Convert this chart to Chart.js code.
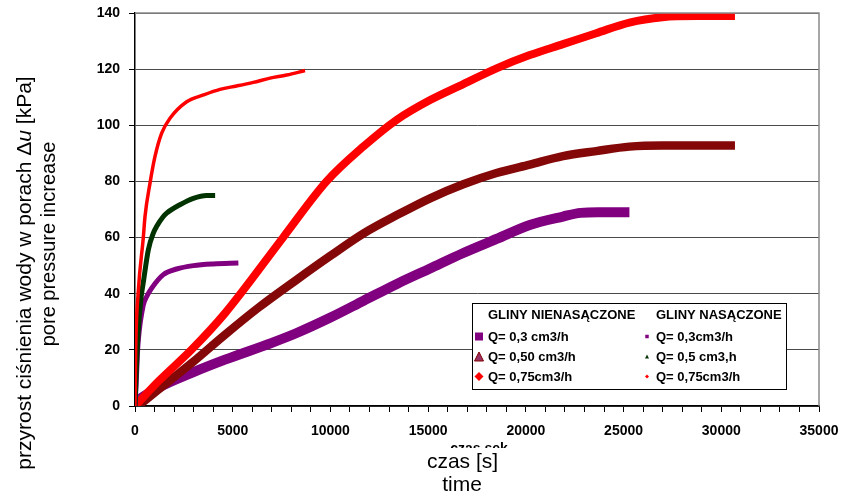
<!DOCTYPE html>
<html><head><meta charset="utf-8">
<script src="https://cdn.jsdelivr.net/npm/chart.js@4.4.1/dist/chart.umd.min.js"></script>
<style>html,body{margin:0;padding:0;background:#fff;overflow:hidden}#wrap{width:843px;height:493px}</style>
</head><body><div id="wrap"><canvas id="c" width="843" height="493"></canvas></div>
<script>
// ---- Data (time [s], pore pressure increase [kPa]) ----
// Unsaturated clays (GLINY NIENASĄCZONE)
const unsat03Time = [0, 1190, 2900, 4605, 7000, 8275, 10000, 11700, 13400, 15100, 16800, 18500, 20200, 21900, 22800, 23700, 25300];
const unsat03Kpa  = [1.5, 6.5, 11.8, 16.5, 22.5, 26, 31.5, 37.5, 43.5, 49, 54.5, 59.5, 64.5, 67.5, 68.8, 69, 69];
const unsat05Time = [150, 1190, 2900, 4605, 6310, 8275, 10000, 11700, 13400, 15100, 16800, 18500, 20200, 21900, 23600, 25300, 27000, 30700];
const unsat05Kpa  = [0, 5.8, 15.3, 25.4, 35, 45, 53.5, 61.5, 68, 74, 79, 83, 86, 89, 90.8, 92.4, 92.8, 92.8];
const unsat075Time = [0, 1200, 2900, 4600, 7575, 9800, 11700, 13400, 15100, 16800, 18500, 20200, 21900, 23600, 25300, 27000, 28750, 30700];
const unsat075Kpa  = [0, 8.8, 20.1, 33, 60, 80, 92.5, 102, 109, 114.7, 120.3, 125, 128.9, 132.8, 136.6, 138.5, 138.9, 138.9];
// Saturated clays (GLINY NASĄCZONE)
const sat03Time = [0, 60, 120, 170, 425, 600, 855, 1450, 2130, 2990, 4010, 5290];
const sat03Kpa  = [0, 8, 18, 23.6, 36, 39, 42, 46.8, 48.8, 50, 50.6, 50.9];
const sat05Time = [0, 50, 150, 300, 425, 683, 938, 1110, 1450, 1620, 2300, 2985, 3670, 4100];
const sat05Kpa  = [0, 10, 25, 38, 44, 55.7, 61.6, 64, 67.5, 68.7, 71.7, 74, 75, 75];
const sat075Time = [0, 35, 170, 425, 512, 768, 1024, 1365, 1790, 2645, 3500, 4350, 5200, 6055, 6910, 7760, 8700];
const sat075Kpa  = [0, 20, 41, 60, 67.5, 79.4, 88.9, 97.2, 102.5, 108.4, 110.8, 112.8, 114, 115.3, 116.8, 117.9, 119.5];

// ---- Labels ----
const xTickLabels = ['0', '5000', '10000', '15000', '20000', '25000', '30000', '35000'];
const yTickLabels = ['0', '20', '40', '60', '80', '100', '120', '140'];
const legendHeadings = ['GLINY NIENASĄCZONE', 'GLINY NASĄCZONE'];
const legendUnsat = ['Q= 0,3 cm3/h', 'Q= 0,50 cm3/h', 'Q= 0,75cm3/h'];
const legendSat = ['Q= 0,3cm3/h', 'Q= 0,5 cm3,h', 'Q= 0,75cm3/h'];
const yTitle1a = 'przyrost ciśnienia wody w porach Δ';
const yTitle1b = 'u';
const yTitle1c = ' [kPa]';
const yTitle2 = 'pore pressure increase';
const xTitle1 = 'czas [s]';
const xTitle2 = 'time';
const xTitleHidden = 'czas sek';

const PURPLE = '#800080', MAROON = '#850808', RED = '#FF0000', GREEN = '#003300';

function pts(t, v) { return t.map((x, i) => ({x: x, y: v[i]})); }
function ds(label, t, v, color, w, order) {
  return {label, data: pts(t, v), showLine: true, borderColor: color, backgroundColor: color,
    borderWidth: w, pointRadius: 0, borderCapStyle: 'butt', borderJoinStyle: 'round',
    cubicInterpolationMode: 'monotone', order};
}

const FONT = "'Liberation Sans', Arial, sans-serif";

function marker(ctx, kind, cx, cy, s, fill, stroke) {
  ctx.beginPath();
  if (kind === 'square') { ctx.rect(cx - s/2, cy - s/2, s, s); }
  else if (kind === 'triangle') { ctx.moveTo(cx, cy - s/2); ctx.lineTo(cx + s/2, cy + s/2); ctx.lineTo(cx - s/2, cy + s/2); ctx.closePath(); }
  else { ctx.moveTo(cx, cy - s/2); ctx.lineTo(cx + s/2, cy); ctx.lineTo(cx, cy + s/2); ctx.lineTo(cx - s/2, cy); ctx.closePath(); }
  ctx.fillStyle = fill; ctx.fill();
  if (stroke) { ctx.strokeStyle = stroke; ctx.lineWidth = 1; ctx.stroke(); }
}

const decor = {
  id: 'decor',
  afterDraw(chart) {
    const ctx = chart.ctx, a = chart.chartArea;
    ctx.save();
    // top & right frame
    ctx.strokeStyle = '#8a8a8a'; ctx.lineWidth = 1.5;
    ctx.beginPath(); ctx.moveTo(a.left, a.top); ctx.lineTo(a.right, a.top); ctx.lineTo(a.right, a.bottom); ctx.stroke();

    // y title
    ctx.fillStyle = '#000';
    ctx.textBaseline = 'alphabetic';
    ctx.save();
    ctx.translate(31, 273); ctx.rotate(-Math.PI / 2);
    const fN = '21px ' + FONT, fI = 'italic 21px ' + FONT;
    ctx.font = fN; const wa = ctx.measureText(yTitle1a).width; const wc = ctx.measureText(yTitle1c).width;
    ctx.font = fI; const wb = ctx.measureText(yTitle1b).width;
    let x0 = -(wa + wb + wc) / 2;
    ctx.textAlign = 'left';
    ctx.font = fN; ctx.fillText(yTitle1a, x0, 0);
    ctx.font = fI; ctx.fillText(yTitle1b, x0 + wa, 0);
    ctx.font = fN; ctx.fillText(yTitle1c, x0 + wa + wb, 0);
    ctx.restore();
    ctx.save();
    ctx.translate(55, 244); ctx.rotate(-Math.PI / 2);
    ctx.font = '20px ' + FONT; ctx.textAlign = 'center'; ctx.fillText(yTitle2, 0, 0);
    ctx.restore();

    // partially covered axis title
    ctx.save();
    ctx.beginPath(); ctx.rect(0, 430, 843, 18); ctx.clip();
    ctx.font = 'bold 14px ' + FONT; ctx.textAlign = 'center';
    ctx.fillText(xTitleHidden, 479, 452.5);
    ctx.restore();

    // x title
    ctx.font = '21px ' + FONT; ctx.textAlign = 'center';
    ctx.fillText(xTitle1, 462.5, 468);
    ctx.fillText(xTitle2, 462, 491);

    // legend
    const L = 472.5, T = 303.5, W = 314, H = 86;
    ctx.fillStyle = '#fff'; ctx.fillRect(L, T, W, H);
    ctx.strokeStyle = '#000'; ctx.lineWidth = 1; ctx.strokeRect(L, T, W, H);
    ctx.fillStyle = '#000'; ctx.font = 'bold 13px ' + FONT; ctx.textAlign = 'left';
    ctx.fillText(legendHeadings[0], 488, 319);
    ctx.fillText(legendHeadings[1], 656, 319);
    const rows = [341, 361, 381];
    const bigKinds = [['square', 8, PURPLE, null], ['triangle', 9, '#993366', '#800000'], ['diamond', 9, RED, null]];
    const smallKinds = [['square', 3.5, PURPLE, null], ['triangle', 4, GREEN, null], ['diamond', 4, RED, null]];
    rows.forEach((b, i) => {
      const k = bigKinds[i], s = smallKinds[i];
      marker(ctx, k[0], 479, b - 4.5, k[1], k[2], k[3]);
      marker(ctx, s[0], 647, b - 4.5, s[1], s[2], s[3]);
      ctx.fillStyle = '#000'; ctx.font = 'bold 13px ' + FONT;
      ctx.fillText(legendUnsat[i], 488, b);
      ctx.fillText(legendSat[i], 656, b);
    });
    ctx.restore();
  }
};

const xLabelValues = xTickLabels.map(Number);
const yLabelValues = yTickLabels.map(Number);

new Chart(document.getElementById('c'), {
  type: 'scatter',
  data: {
    datasets: [
      ds(legendSat[2], sat075Time, sat075Kpa, RED, 3.5, 1),
      ds(legendSat[1], sat05Time, sat05Kpa, GREEN, 5, 2),
      ds(legendSat[0], sat03Time, sat03Kpa, PURPLE, 5, 3),
      ds(legendUnsat[2], unsat075Time, unsat075Kpa, RED, 8, 4),
      ds(legendUnsat[1], unsat05Time, unsat05Kpa, MAROON, 8.5, 5),
      ds(legendUnsat[0], unsat03Time, unsat03Kpa, PURPLE, 10, 6)
    ]
  },
  options: {
    responsive: false, animation: false, devicePixelRatio: 1, events: [],
    layout: {padding: {top: 13, right: 24, left: 0, bottom: 0}},
    plugins: {legend: {display: false}, tooltip: {enabled: false}, title: {display: false}},
    scales: {
      x: {
        type: 'linear', min: 0, max: 35000,
        afterFit: s => { s.height = 87; s.paddingLeft = 0; s.paddingRight = 0; },
        ticks: {stepSize: 1000, autoSkip: false, maxRotation: 0, padding: 11, color: '#000',
          font: {family: FONT, size: 14, weight: 'bold'},
          callback: v => { const i = xLabelValues.indexOf(v); return i >= 0 ? xTickLabels[i] : ''; }},
        grid: {drawOnChartArea: false, drawTicks: true, tickLength: 6, color: '#000', lineWidth: 1},
        border: {color: '#000', width: 1.5}
      },
      y: {
        min: 0, max: 140,
        afterFit: s => { s.width = 135; s.paddingTop = 0; s.paddingBottom = 0; },
        ticks: {stepSize: 20, padding: 9, color: '#000',
          font: {family: FONT, size: 14, weight: 'bold'},
          callback: v => { const i = yLabelValues.indexOf(v); return i >= 0 ? yTickLabels[i] : ''; }},
        grid: {color: '#4a4a4a', tickColor: '#000', tickLength: 6, lineWidth: 1},
        border: {color: '#000', width: 1.5}
      }
    }
  },
  plugins: [decor]
});
</script></body></html>
